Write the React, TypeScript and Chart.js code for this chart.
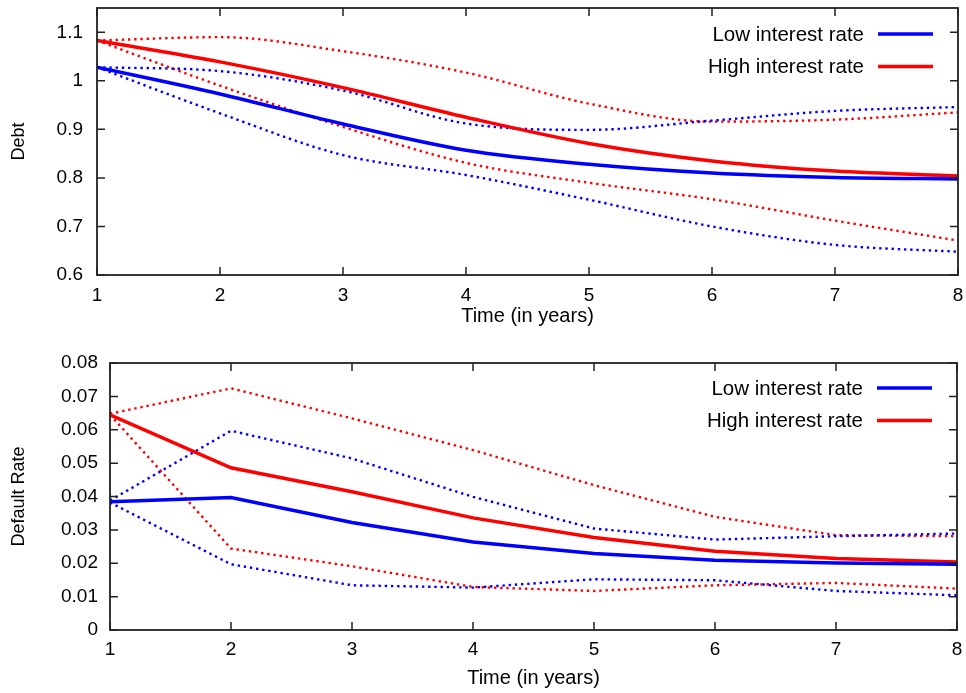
import React, { useEffect, useRef } from 'react';
import { Chart, registerables } from 'chart.js';

Chart.register(...registerables);

// ---------- data ----------
const years = [1, 2, 3, 4, 5, 6, 7, 8];
const xTickValues = [1, 2, 3, 4, 5, 6, 7, 8];
const legendLabels = ['Low interest rate', 'High interest rate'];

const debtTicks = [0.6, 0.7, 0.8, 0.9, 1.0, 1.1];
const debtLow = [1.028, 0.973, 0.911, 0.857, 0.828, 0.810, 0.801, 0.798];
const debtHigh = [1.083, 1.039, 0.986, 0.925, 0.871, 0.835, 0.814, 0.804];
const debtLowUpper = [1.028, 1.020, 0.980, 0.912, 0.899, 0.918, 0.938, 0.946];
const debtLowLower = [1.028, 0.933, 0.847, 0.806, 0.755, 0.700, 0.662, 0.648];
const debtHighUpper = [1.083, 1.090, 1.061, 1.017, 0.953, 0.916, 0.920, 0.935];
const debtHighLower = [1.083, 0.990, 0.905, 0.831, 0.790, 0.756, 0.712, 0.671];

const defaultTicks = [0, 0.01, 0.02, 0.03, 0.04, 0.05, 0.06, 0.07, 0.08];
const defLow = [0.0384, 0.0397, 0.0322, 0.0264, 0.0229, 0.0209, 0.0201, 0.0197];
const defHigh = [0.0645, 0.0486, 0.0414, 0.0336, 0.0277, 0.0236, 0.0214, 0.0204];
const defLowUpper = [0.0388, 0.0597, 0.0514, 0.0399, 0.0304, 0.0271, 0.0281, 0.0289];
const defLowLower = [0.0382, 0.0197, 0.0134, 0.0127, 0.0152, 0.0149, 0.0117, 0.0104];
const defHighUpper = [0.0648, 0.0724, 0.0634, 0.0539, 0.0434, 0.0339, 0.0284, 0.0281];
const defHighLower = [0.0645, 0.0244, 0.0191, 0.0129, 0.0117, 0.0134, 0.0141, 0.0124];

// ---------- styling ----------
const BLUE = '#0000ff';
const RED = '#ff0000';
const FONT = "'Liberation Sans', Arial, Helvetica, sans-serif";
const INK = '#000000';
const FRAME = '#222222';

type Series = { values: number[]; color: string; solid: boolean };

const frameTicksPlugin = {
  id: 'frameTicks',
  afterDraw(chart: any) {
    const { ctx, chartArea } = chart;
    const xs = chart.scales.x;
    const ys = chart.scales.y;
    const len = 8;
    ctx.save();
    ctx.strokeStyle = FRAME;
    ctx.lineWidth = 1.5;
    ctx.beginPath();
    xs.ticks.forEach((t: any) => {
      const px = xs.getPixelForValue(t.value);
      ctx.moveTo(px, chartArea.bottom);
      ctx.lineTo(px, chartArea.bottom - len);
      ctx.moveTo(px, chartArea.top);
      ctx.lineTo(px, chartArea.top + len);
    });
    ys.ticks.forEach((t: any) => {
      const py = ys.getPixelForValue(t.value);
      ctx.moveTo(chartArea.left, py);
      ctx.lineTo(chartArea.left + len, py);
      ctx.moveTo(chartArea.right, py);
      ctx.lineTo(chartArea.right - len, py);
    });
    ctx.stroke();
    ctx.lineWidth = 1.8;
    ctx.strokeRect(chartArea.left, chartArea.top, chartArea.right - chartArea.left, chartArea.bottom - chartArea.top);
    ctx.restore();
  },
};

const insideLegendPlugin = {
  id: 'insideLegend',
  afterDraw(chart: any, _args: any, opts: any) {
    const { ctx, chartArea } = chart;
    ctx.save();
    ctx.font = `20.5px ${FONT}`;
    ctx.textAlign = 'right';
    ctx.textBaseline = 'middle';
    ctx.fillStyle = INK;
    (opts.items || []).forEach((it: any, i: number) => {
      const y = chartArea.top + opts.firstRow + i * opts.rowGap;
      ctx.fillText(it.label, chartArea.right - 94, y + 1);
      ctx.strokeStyle = it.color;
      ctx.lineWidth = 3.5;
      ctx.beginPath();
      ctx.moveTo(chartArea.right - 80, y);
      ctx.lineTo(chartArea.right - 25, y);
      ctx.stroke();
    });
    ctx.restore();
  },
};

type PanelProps = {
  top: number;
  height: number;
  padTop: number;
  padRight: number;
  yWidth: number;
  xHeight: number;
  yMin: number;
  yMax: number;
  yTicks: number[];
  yTitle: string;
  yTickPad: number;
  xTickPad: number;
  xTitlePad: number;
  series: Series[];
  tension: number;
  legendFirstRow: number;
};

function Panel(p: PanelProps) {
  const ref = useRef<HTMLCanvasElement>(null);
  useEffect(() => {
    const datasets = p.series.map((s) => ({
      data: years.map((x, i) => ({ x, y: s.values[i] })),
      borderColor: s.color,
      backgroundColor: s.color,
      borderWidth: s.solid ? 3.5 : 2.4,
      borderDash: s.solid ? [] : [2.4, 3.8],
      pointRadius: 0,
      fill: false,
      tension: p.tension,
      cubicInterpolationMode: p.tension > 0 ? ('monotone' as const) : ('default' as const),
    }));
    const fixPad = (scale: any) => {
      scale.paddingTop = 0;
      scale.paddingBottom = 0;
      scale.paddingLeft = 0;
      scale.paddingRight = 0;
    };
    const chart = new Chart(ref.current!, {
      type: 'line',
      data: { datasets },
      plugins: [frameTicksPlugin, insideLegendPlugin],
      options: {
        responsive: false,
        animation: false,
        devicePixelRatio: 1,
        layout: { padding: { top: p.padTop, right: p.padRight, left: 0, bottom: 0 } },
        plugins: {
          legend: { display: false },
          tooltip: { enabled: false },
          insideLegend: {
            firstRow: p.legendFirstRow,
            rowGap: 32.5,
            items: legendLabels.map((label, i) => ({ label, color: i === 0 ? BLUE : RED })),
          },
        } as any,
        scales: {
          x: {
            type: 'linear',
            min: 1,
            max: 8,
            grid: { display: false, drawTicks: false },
            border: { display: false },
            afterBuildTicks: (scale: any) => {
              scale.ticks = xTickValues.map((v) => ({ value: v }));
            },
            afterFit: (scale: any) => {
              scale.height = p.xHeight;
              fixPad(scale);
            },
            ticks: {
              padding: p.xTickPad,
              color: INK,
              font: { family: FONT, size: 19 },
              maxRotation: 0,
              autoSkip: false,
              callback: (v: any) => String(v),
            },
            title: {
              display: true,
              text: 'Time (in years)',
              color: INK,
              font: { family: FONT, size: 20 },
              padding: { top: 0, bottom: p.xTitlePad },
            },
          },
          y: {
            type: 'linear',
            min: p.yMin,
            max: p.yMax,
            grid: { display: false, drawTicks: false },
            border: { display: false },
            afterBuildTicks: (scale: any) => {
              scale.ticks = p.yTicks.map((v) => ({ value: v }));
            },
            afterFit: (scale: any) => {
              scale.width = p.yWidth;
              fixPad(scale);
            },
            ticks: {
              padding: p.yTickPad,
              color: INK,
              font: { family: FONT, size: 19 },
              callback: (v: any) => String(Number(Number(v).toFixed(3))),
            },
            title: {
              display: true,
              text: p.yTitle,
              color: INK,
              font: { family: FONT, size: 18 },
              padding: { top: 8, bottom: 0 },
            },
          },
        },
      },
    });
    return () => chart.destroy();
  }, []);
  return (
    <canvas
      ref={ref}
      width={966}
      height={p.height}
      style={{ position: 'absolute', left: 0, top: p.top, width: 966, height: p.height, display: 'block' }}
    />
  );
}

const debtSeries: Series[] = [
  { values: debtLow, color: BLUE, solid: true },
  { values: debtHigh, color: RED, solid: true },
  { values: debtLowUpper, color: BLUE, solid: false },
  { values: debtLowLower, color: BLUE, solid: false },
  { values: debtHighUpper, color: RED, solid: false },
  { values: debtHighLower, color: RED, solid: false },
];

const defaultSeries: Series[] = [
  { values: defLow, color: BLUE, solid: true },
  { values: defHigh, color: RED, solid: true },
  { values: defLowUpper, color: BLUE, solid: false },
  { values: defLowLower, color: BLUE, solid: false },
  { values: defHighUpper, color: RED, solid: false },
  { values: defHighLower, color: RED, solid: false },
];

export default function App() {
  return (
    <div style={{ position: 'absolute', left: 0, top: 0, width: 966, height: 693, background: '#fff', overflow: 'hidden' }}>
      <Panel
        top={0}
        height={340}
        padTop={8}
        padRight={8}
        yWidth={97}
        xHeight={65}
        yMin={0.6}
        yMax={1.15}
        yTicks={debtTicks}
        yTitle="Debt"
        yTickPad={14}
        xTickPad={9}
        xTitlePad={12}
        series={debtSeries}
        tension={0.4}
        legendFirstRow={26}
      />
      <Panel
        top={340}
        height={353}
        padTop={23}
        padRight={9}
        yWidth={110}
        xHeight={63}
        yMin={0}
        yMax={0.08}
        yTicks={defaultTicks}
        yTitle="Default Rate"
        yTickPad={12}
        xTickPad={8}
        xTitlePad={3}
        series={defaultSeries}
        tension={0}
        legendFirstRow={25}
      />
    </div>
  );
}
